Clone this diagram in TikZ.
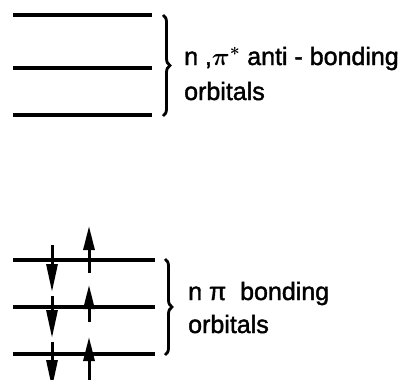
\documentclass[tikz,border=0pt]{standalone}
\usepackage{amsmath}
\usepackage{fontspec}
\setmainfont{Liberation Sans}[BoldFont={Liberation Sans},BoldFeatures={FakeBold=1.6}]
\usetikzlibrary{arrows.meta,decorations.pathreplacing}
\begin{document}
\begin{tikzpicture}[x=1pt,y=-1pt,
  level/.style={line width=3.2pt},
  bracestyle/.style={line width=2.8pt,decorate,decoration={brace,amplitude=7pt}},
  label/.style={anchor=base west,inner sep=0pt,font=\fontsize{25}{30}\selectfont\bfseries},
  downarrow/.style={line width=3pt,-{Triangle[length=28pt,width=11pt]}},
  uparrow/.style={line width=3pt,-{Triangle[length=24pt,width=11pt]}}]
\useasboundingbox (0,0) rectangle (405,380);
\clip (0,0) rectangle (405,380);
% anti-bonding levels
\coordinate (a1l) at (13,15);  \coordinate (a1r) at (152,15);
\coordinate (a2l) at (13,68);  \coordinate (a2r) at (152,68);
\coordinate (a3l) at (13,115); \coordinate (a3r) at (152,115);
\draw[level] (a1l) -- (a1r);
\draw[level] (a2l) -- (a2r);
\draw[level] (a3l) -- (a3r);
\coordinate (abt) at (163,15); \coordinate (abb) at (163,116);
\draw[bracestyle] (abt) -- (abb);
\node[label] (antitext) at (184,65) {n ,$\boldsymbol{\pi}^{\boldsymbol{*}}$ anti - bonding};
\node[label] (antiorb) at (184,100) {orbitals};
% bonding levels
\coordinate (b1l) at (13,260);  \coordinate (b1r) at (155,260);
\coordinate (b2l) at (13,307);  \coordinate (b2r) at (155,307);
\coordinate (b3l) at (13,354);  \coordinate (b3r) at (155,354);
\draw[level] (b1l) -- (b1r);
\draw[level] (b2l) -- (b2r);
\draw[level] (b3l) -- (b3r);
\coordinate (bbt) at (165,259); \coordinate (bbb) at (165,355);
\draw[bracestyle] (bbt) -- (bbb);
\node[label] (bondtext) at (188,300) {n π\ \ bonding};
\node[label] (bondorb) at (188,333) {orbitals};
% spin arrows (down)
\coordinate (d1s) at (52,245); \coordinate (d1e) at (52,292);
\coordinate (d2s) at (52,296); \coordinate (d2e) at (52,338);
\coordinate (d3s) at (52,342); \coordinate (d3e) at (52,388);
\draw[downarrow] (d1s) -- (d1e);
\draw[downarrow] (d2s) -- (d2e);
\draw[downarrow] (d3s) -- (d3e);
% spin arrows (up)
\coordinate (u1s) at (89,273); \coordinate (u1e) at (89,226);
\coordinate (u2s) at (89,322); \coordinate (u2e) at (89,285);
\coordinate (u3s) at (89,384); \coordinate (u3e) at (89,337);
\draw[uparrow] (u1s) -- (u1e);
\draw[uparrow] (u2s) -- (u2e);
\draw[uparrow] (u3s) -- (u3e);
\end{tikzpicture}
\end{document}
